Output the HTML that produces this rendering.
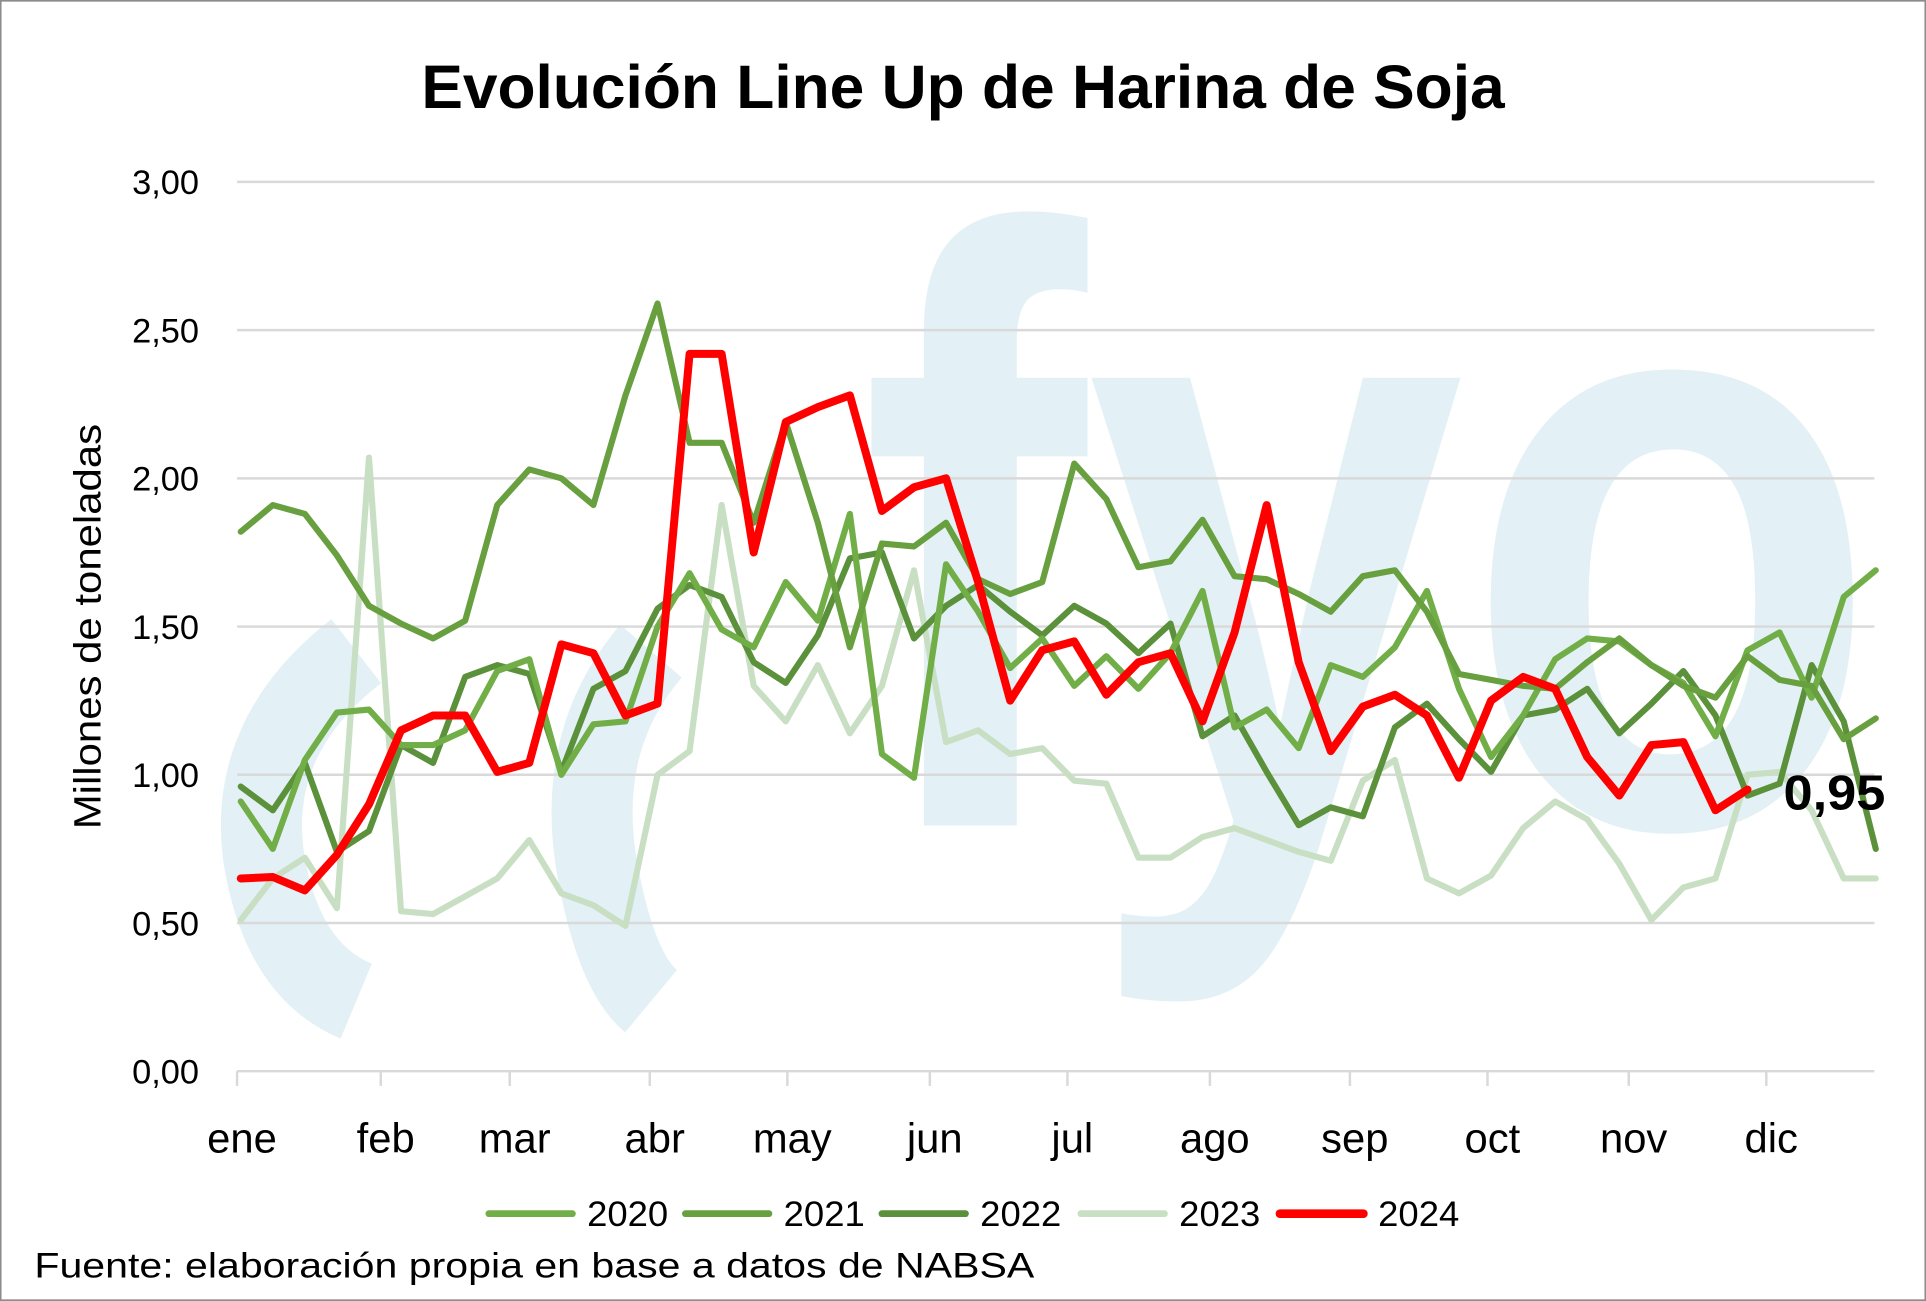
<!DOCTYPE html>
<html><head><meta charset="utf-8">
<style>
html,body{margin:0;padding:0;background:#fff;}
svg{display:block;}
text{font-family:"Liberation Sans",sans-serif;}
</style></head>
<body>
<svg id="s" width="1926" height="1301" viewBox="0 0 1568 1059" xmlns="http://www.w3.org/2000/svg">
<rect x="0.5" y="0.5" width="1567" height="1058" fill="#fff" stroke="#8c8c8c" stroke-width="1.5"/>
<g fill="#e3f1f6">
<text x="700" y="672" font-size="690" font-weight="bold" textLength="830" lengthAdjust="spacingAndGlyphs" style="font-family:'Liberation Sans',sans-serif">fyo</text>
</g>
<g fill="none" stroke="#e3f1f6" stroke-width="66">
<path d="M290,530 Q200,600 215,700 Q230,790 290,815"/>
<path d="M530,530 Q470,600 485,700 Q500,790 530,815"/>
</g>
<g id="grid" stroke="#d9d9d9" stroke-width="2"></g>
<g id="lines" fill="none" stroke-linejoin="round" stroke-linecap="round"></g>
<text x="343" y="88" font-size="50" font-weight="bold" textLength="882" lengthAdjust="spacingAndGlyphs">Evolución Line Up de Harina de Soja</text>
<g id="ylab" font-size="28" text-anchor="end"></g>
<text transform="translate(82,510) rotate(-90)" font-size="31" text-anchor="middle" textLength="330" lengthAdjust="spacingAndGlyphs">Millones de toneladas</text>
<g id="xlab" font-size="34" text-anchor="middle"></g>
<text x="1452" y="659" font-size="40" font-weight="bold" textLength="83" lengthAdjust="spacingAndGlyphs">0,95</text>
<g id="leg" font-size="29"></g>
<text x="28" y="1040" font-size="29" textLength="814" lengthAdjust="spacingAndGlyphs">Fuente: elaboración propia en base a datos de NABSA</text>
</svg>
<script>
var NS="http://www.w3.org/2000/svg";
function el(t,a,p,txt){var e=document.createElementNS(NS,t);for(var k in a)e.setAttribute(k,a[k]);if(txt!==undefined)e.textContent=txt;document.getElementById(p).appendChild(e);return e;}
function Y(v){return 872-241.33*v;}
for(var i=0;i<=6;i++){var v=i*0.5;el('line',{x1:193,x2:1526,y1:Y(v),y2:Y(v)},'grid');
el('text',{x:162,y:Y(v)+10},'ylab',v.toFixed(2).replace('.',','));}
var mx=[193,310,415,529,641,757,869,985,1099,1211,1326,1438];
var mn=['ene','feb','mar','abr','may','jun','jul','ago','sep','oct','nov','dic'];
for(var i=0;i<12;i++){el('line',{x1:mx[i],x2:mx[i],y1:872,y2:884},'grid');el('text',{x:mx[i]+4,y:938},'xlab',mn[i]);}
var d={
c2023:[0.51,0.65,0.72,0.55,2.07,0.54,0.53,0.59,0.65,0.78,0.60,0.56,0.49,1.00,1.08,1.91,1.30,1.18,1.37,1.14,1.30,1.69,1.11,1.15,1.07,1.09,0.98,0.97,0.72,0.72,0.79,0.82,0.78,0.74,0.71,0.98,1.05,0.65,0.60,0.66,0.82,0.91,0.85,0.70,0.51,0.62,0.65,1.00,1.01,0.88,0.65,0.65],
c2022:[0.96,0.88,1.04,0.74,0.81,1.10,1.04,1.33,1.37,1.34,1.01,1.29,1.35,1.56,1.64,1.60,1.38,1.31,1.47,1.73,1.75,1.46,1.57,1.64,1.55,1.47,1.57,1.51,1.41,1.51,1.13,1.20,1.01,0.83,0.89,0.86,1.16,1.24,1.12,1.01,1.20,1.22,1.29,1.14,1.24,1.35,1.20,0.93,0.97,1.37,1.18,0.75],
c2020:[0.91,0.75,1.05,1.21,1.22,1.10,1.10,1.15,1.35,1.39,1.00,1.17,1.18,1.50,1.68,1.49,1.43,1.65,1.52,1.88,1.07,0.99,1.71,1.55,1.36,1.46,1.30,1.40,1.29,1.41,1.62,1.16,1.22,1.09,1.37,1.33,1.43,1.62,1.29,1.06,1.20,1.39,1.46,1.45,1.37,1.31,1.13,1.42,1.48,1.26,1.60,1.69],
c2021:[1.82,1.91,1.88,1.74,1.57,1.51,1.46,1.52,1.91,2.03,2.00,1.91,2.28,2.59,2.12,2.12,1.85,2.19,1.85,1.43,1.78,1.77,1.85,1.66,1.61,1.65,2.05,1.93,1.70,1.72,1.86,1.67,1.66,1.61,1.55,1.67,1.69,1.55,1.34,1.32,1.30,1.29,1.38,1.46,1.37,1.30,1.26,1.40,1.32,1.30,1.12,1.19],
c2024:[0.65,0.655,0.61,0.73,0.90,1.15,1.20,1.20,1.01,1.04,1.44,1.41,1.20,1.24,2.42,2.42,1.75,2.19,2.24,2.28,1.89,1.97,2.00,1.65,1.25,1.42,1.45,1.27,1.38,1.41,1.18,1.48,1.91,1.38,1.08,1.23,1.27,1.20,0.99,1.25,1.33,1.29,1.06,0.93,1.10,1.11,0.88,0.95]};
var st={c2023:['#c9dfc4',5],c2022:['#5b913a',5],c2020:['#72ae48',5],c2021:['#68a040',5],c2024:['#ff0000',6.5]};
for(var k in d){var p=d[k].map(function(v,i){return (196+i*26.1).toFixed(1)+','+Y(v).toFixed(1);}).join(' ');
el('polyline',{points:p,stroke:st[k][0],'stroke-width':st[k][1]},'lines');}
var lg=[['2020','#72ae48',398],['2021','#68a040',558],['2022','#5b913a',718],['2023','#c9dfc4',880],['2024','#ff0000',1042]];
lg.forEach(function(l){el('line',{x1:l[2],x2:l[2]+68,y1:988,y2:988,stroke:l[1],'stroke-width':l[0]=='2024'?7:5.5,'stroke-linecap':'round'},'leg');
el('text',{x:l[2]+80,y:998,textLength:66,lengthAdjust:'spacingAndGlyphs'},'leg',l[0]);});
</script>
</body></html>
